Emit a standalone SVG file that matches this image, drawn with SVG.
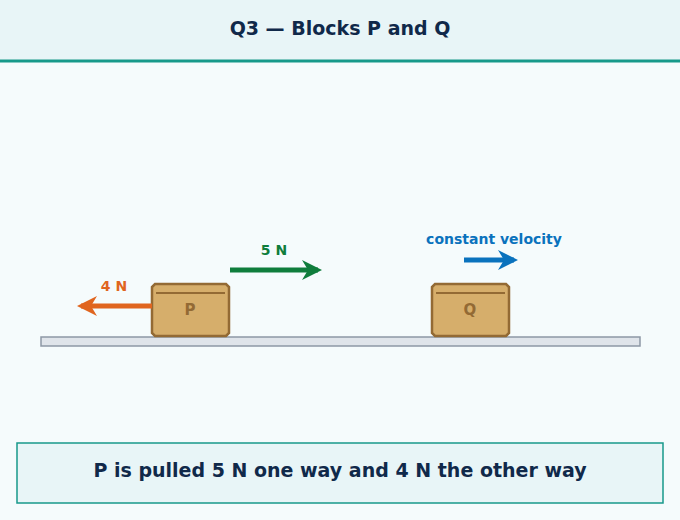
<svg xmlns="http://www.w3.org/2000/svg" width="680" height="520" viewBox="0 0 680 520">
<style>
text{font-family:"DejaVu Sans",sans-serif;font-weight:bold;text-anchor:middle}
.blk{fill:#d6ae6b;stroke:#936a34;stroke-width:2.5}
.lid{stroke:#936a34;stroke-width:2}
.bl{fill:#936a34;font-size:15px}
</style>
<defs>
<marker id="ao" viewBox="0 0 10 10" refX="8" refY="5" markerWidth="4" markerHeight="4" orient="auto-start-reverse"><path d="M0,0 L10,5 L0,10 L3,5 Z" fill="#e0651f"/></marker>
<marker id="ag" viewBox="0 0 10 10" refX="8" refY="5" markerWidth="4" markerHeight="4" orient="auto"><path d="M0,0 L10,5 L0,10 L3,5 Z" fill="#0f7d3c"/></marker>
<marker id="ab" viewBox="0 0 10 10" refX="8" refY="5" markerWidth="4" markerHeight="4" orient="auto"><path d="M0,0 L10,5 L0,10 L3,5 Z" fill="#0a72bd"/></marker>
</defs>
<rect width="680" height="520" fill="#f5fbfc"/>
<rect width="680" height="61" fill="#e8f5f7"/>
<line x1="0" y1="61" x2="680" y2="61" stroke="#17998a" stroke-width="3"/>
<text x="340" y="35" font-size="19" fill="#10294a">Q3 — Blocks P and Q</text>
<rect id="ground" x="41" y="337" width="599" height="9" fill="#dfe4ea" stroke="#8d98a5" stroke-width="1.5"/>
<g id="blockP">
<path class="blk" d="M155,284 H226 L229,287 V333 L226,336 H155 L152,333 V287 Z"/>
<line class="lid" x1="156" y1="293" x2="225" y2="293"/>
<text class="bl" x="190" y="315">P</text>
</g>
<g id="blockQ">
<path class="blk" d="M435,284 H506 L509,287 V333 L506,336 H435 L432,333 V287 Z"/>
<line class="lid" x1="436" y1="293" x2="505" y2="293"/>
<text class="bl" x="470" y="315">Q</text>
</g>
<g id="connectors">
<line x1="152" y1="306" x2="81" y2="306" stroke="#e0651f" stroke-width="5" marker-end="url(#ao)"/>
<line x1="230" y1="270" x2="318" y2="270" stroke="#0f7d3c" stroke-width="5" marker-end="url(#ag)"/>
<line x1="464" y1="260" x2="514" y2="260" stroke="#0a72bd" stroke-width="5" marker-end="url(#ab)"/>
</g>
<text x="114" y="291" font-size="14" fill="#e0651f">4 N</text>
<text x="274" y="255" font-size="14" fill="#0f7d3c">5 N</text>
<text x="494" y="244" font-size="14" fill="#0a72bd">constant velocity</text>
<rect x="17" y="443" width="646" height="60" fill="#e8f5f7" stroke="#17998a" stroke-width="1.5"/>
<text x="340" y="477" font-size="19" fill="#10294a">P is pulled 5 N one way and 4 N the other way</text>
</svg>
